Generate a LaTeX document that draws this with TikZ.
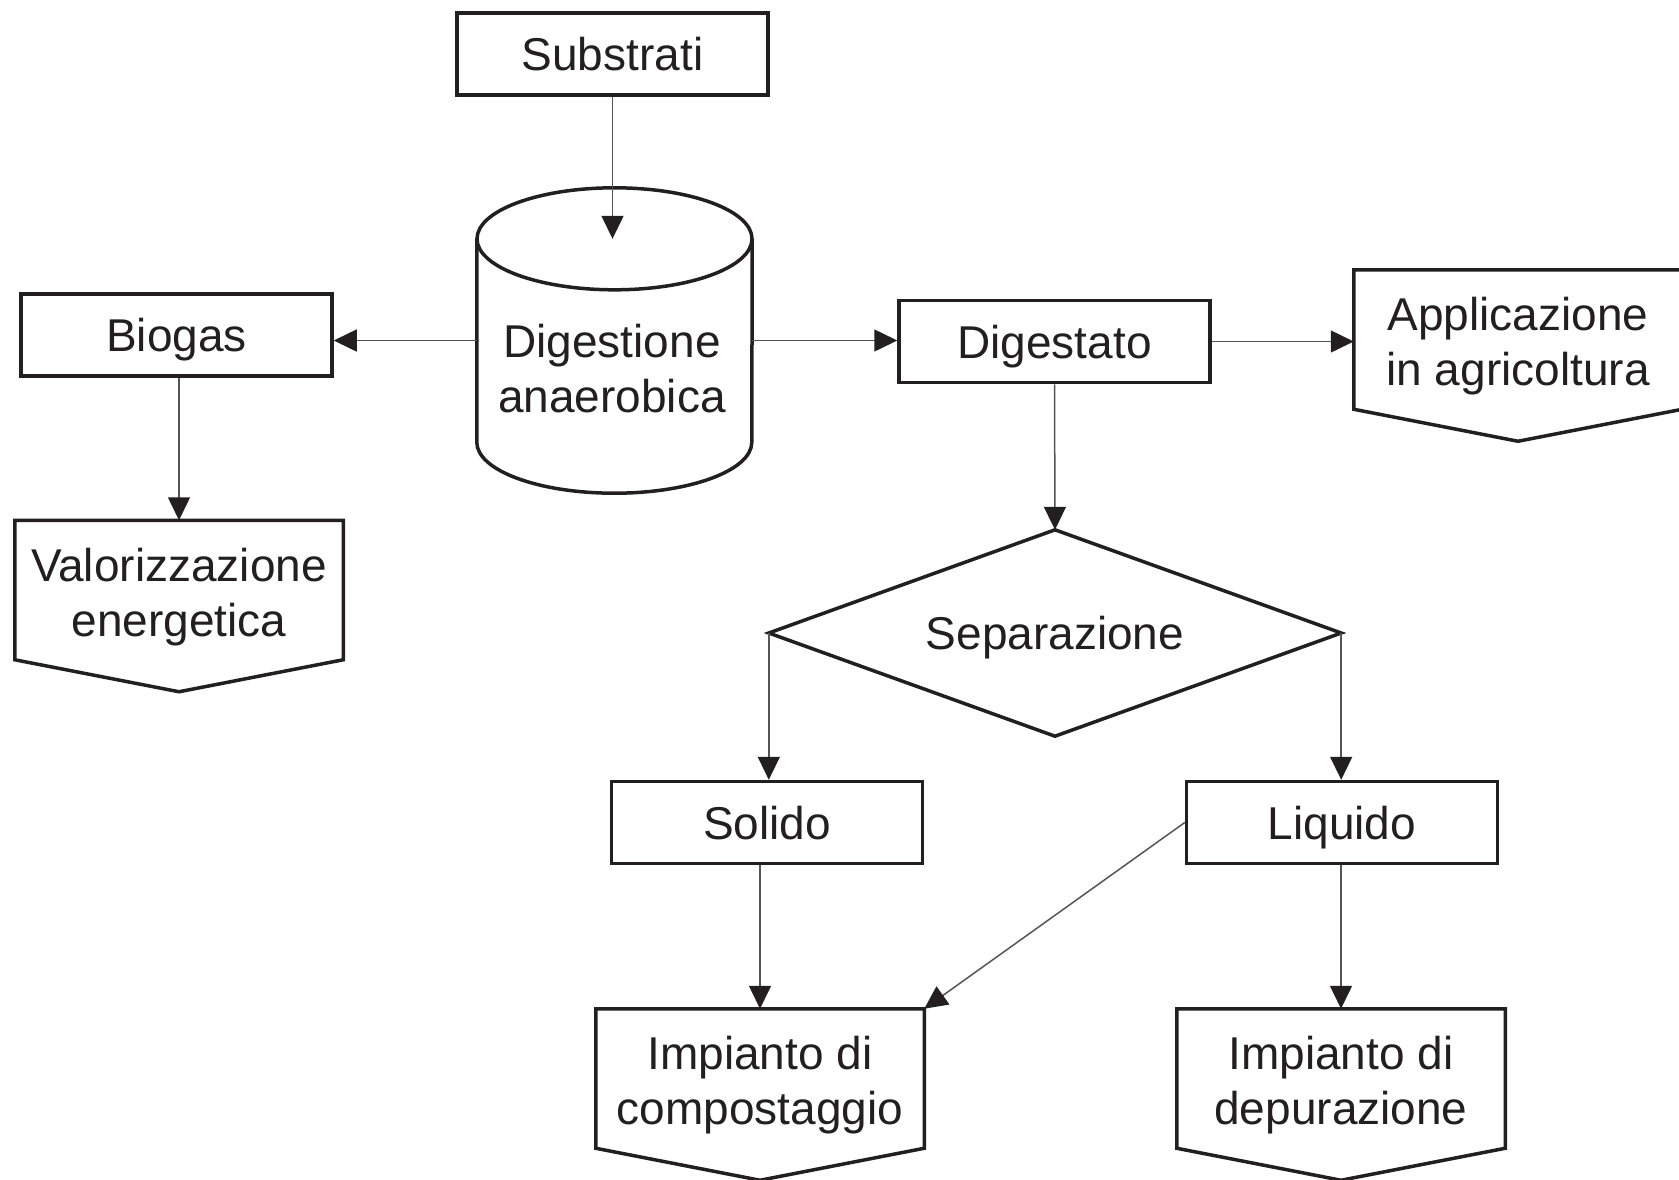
\documentclass[tikz,border=0pt]{standalone}
\usepackage{fontspec}
\setmainfont{Liberation Sans}
\usetikzlibrary{arrows.meta,calc}
\definecolor{ink}{HTML}{231F20}
\definecolor{wire}{HTML}{555555}
\begin{document}
\begin{tikzpicture}[x=1pt,y=-1pt,
  every node/.style={font=\fontsize{46}{55}\selectfont, text=ink, align=center, inner sep=0pt},
  procbox/.style={draw=ink, line width=3.5pt, minimum width=311pt, minimum height=82pt, text height=33pt, text depth=0pt},
  area/.style={minimum width=325pt, minimum height=136pt, outer sep=1.75pt},
  body/.style={minimum width=275pt, minimum height=203pt},
  outline/.style={draw=ink, line width=3.5pt, line join=miter},
  flow/.style={draw=wire, line width=1.5pt, -{Triangle[length=23pt,width=22pt,color=ink]}}
]
\useasboundingbox (0,0) rectangle (1679,1179);

% rectangles
\node[procbox] (sub) at (612.5,54) {Substrati};
\node[procbox] (bio) at (176.5,335) {Biogas};
\node[procbox] (dg)  at (1054.5,341.5) {Digestato};
\node[procbox] (sol) at (767,822.5) {Solido};
\node[procbox] (liq) at (1342,822.5) {Liquido};

% cylinder
\node[body] (cyl) at (614.5,340.5) {};
\draw[outline] (cyl.north west) -- (cyl.south west)
  arc[start angle=180, end angle=360, x radius=137.5pt, y radius=51pt] -- (cyl.north east);
\draw[outline] (cyl.north) ellipse[x radius=137.5pt, y radius=51pt];
\node (dig) at (612,369) {Digestione\\anaerobica};

% decision
\node[minimum width=572pt, minimum height=206pt, text height=33pt, text depth=0pt] (sep) at (1055,633) {Separazione};
\draw[outline] (sep.north) -- (sep.east) -- (sep.south) -- (sep.west) -- cycle;

% off-page outputs (node centred on its text; outline drawn 7pt higher)
\node[area] (val) at (179,597) {Valorizzazione\\energetica};
\node[area] (app) at (1518,346.5) {Applicazione\\in agricoltura};
\node[area] (comp) at (760,1085.5) {Impianto di\\compostaggio};
\node[area] (dep) at (1341,1085.5) {Impianto di\\depurazione};
\foreach \n in {val,app,comp,dep}{
  \draw[outline] ($(\n.north west)+(0,-7)$) -- ($(\n.north east)+(0,-7)$)
    -- ($(\n.south east)+(0,-7)$) -- ($(\n.south)+(0,25)$)
    -- ($(\n.south west)+(0,-7)$) -- cycle;
  \coordinate (\n-top) at ($(\n.north)+(0,-7)$);
  \coordinate (\n-ne) at ($(\n.north east)+(0,-7)$);
  \coordinate (\n-w) at ($(\n.west)+(0,-7)$);
}

% connectors
\draw[flow] (sub.south) -- (sub.south |- cyl.north);
\draw[flow] (cyl.west) -- (cyl.west -| bio.east);
\draw[flow] (cyl.east) -- (cyl.east -| dg.west);
\draw[flow] (val-top |- bio.south) -- (val-top);
\draw[flow] (dg.east) -- (dg.east -| app-w);
\draw[flow] (dg.south) -- (sep.north);
\draw[flow] (sep.west) -- (sep.west |- sol.north);
\draw[flow] (sep.east) -- (sep.east |- liq.north);
\draw[flow] (comp-top |- sol.south) -- (comp-top);
\draw[flow] (dep-top |- liq.south) -- (dep-top);
\draw[flow] (liq.west) -- (comp-ne);
\end{tikzpicture}
\end{document}
